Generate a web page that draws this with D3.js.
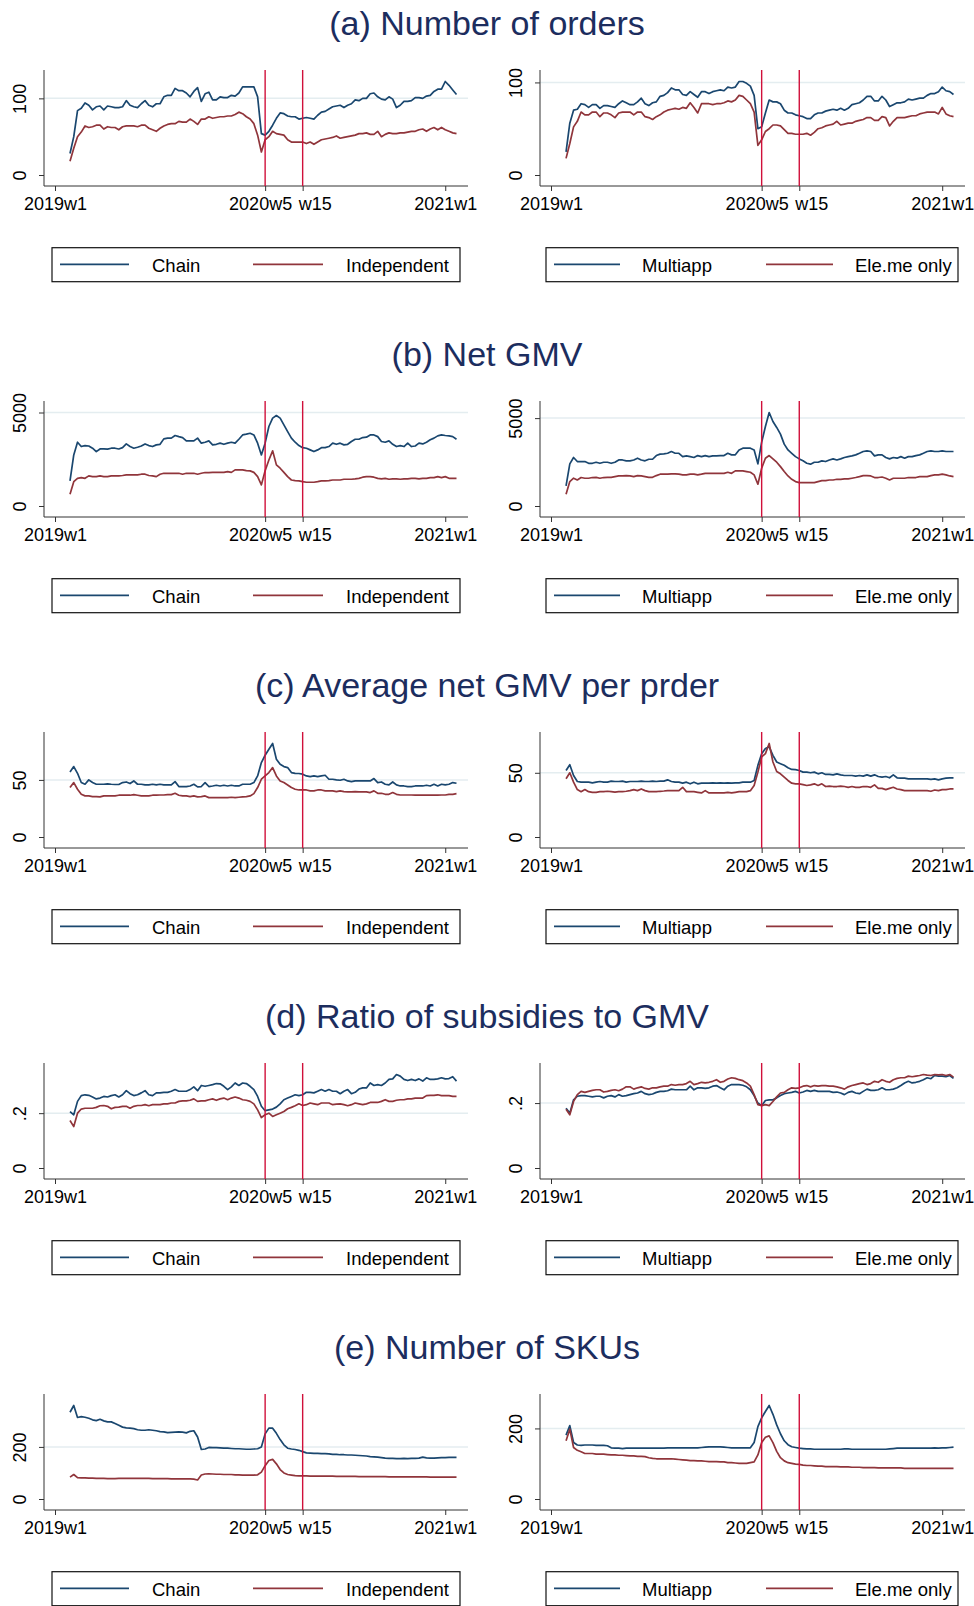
<!DOCTYPE html>
<html lang="en">
<head>
  <meta charset="UTF-8">
  <title>Weekly outcomes</title>
  <style>
    * { margin:0; padding:0; box-sizing:border-box }
    html, body { width:974px; height:1606px; background:#fff; overflow:hidden }
    svg { display:block; font-family:"Liberation Sans", Arial, sans-serif }
    .axis-line { stroke:#333; stroke-width:1 }
    .grid { stroke:#e4edf0; stroke-width:1.5 }
    .event { stroke:#d0103a; stroke-width:1.4 }
    .tick-lab { font-size:18px; fill:#000 }
    .legend-lab { font-size:18.5px; fill:#000 }
    .panel-title { font-size:34px; fill:#1c2d5e }
  </style>
</head>
<body>
<svg id="chart" width="974" height="1606"></svg>
<script src="https://cdn.jsdelivr.net/npm/d3@7/dist/d3.min.js"></script>
<script>
// week index: 0 = 2019w1 (Stata weekly dates, 52 weeks a year)
const weekIdx = d3.range(4, 108);
const xTickWeeks = [0, 56, 66, 104];
const xTickLabels = ["2019w1", "2020w5", "w15", "2021w1"];
const eventWeeks = [56, 66];

const titles = ["(a) Number of orders", "(b) Net GMV", "(c) Average net GMV per prder",
                "(d) Ratio of subsidies to GMV", "(e) Number of SKUs"];
const leftNames = ["Chain", "Independent"];
const rightNames = ["Multiapp", "Ele.me only"];
const yTicks = [[0, 100], [0, 5000], [0, 50], [0, 0.2], [0, 200]];
const yTickLabels = [["0", "100"], ["0", "5000"], ["0", "50"], ["0", ".2"], ["0", "200"]];

// (a) number of orders
const ordersChain = [28,50,84,87,94,91,85,89,90,85, 90,89,88,88,89,97,91,89,88,93, 97,91,89,93,93,102,104,104,113,110,
  110,107,102,109,114,96,106,108,98,98, 102,101,101,104,103,107,115,115,115,115, 102,54,52,57,65,74,81,80,77,76,
  76,73,74,75,74,73,78,82,83,86, 89,90,91,88,91,93,98,97,100,100, 106,107,102,99,98,102,99,88,91,96,
  96,97,101,101,100,103,104,109,112,112, 122,117,111,105];
const ordersInd = [18,35,50,56,64,62,63,65,65,60, 63,62,62,59,63,64,64,64,63,65, 65,61,59,57,61,64,66,67,67,70,
  69,69,73,70,66,73,73,76,74,75, 76,76,77,77,79,82,80,76,73,67, 52,30,46,50,57,54,53,52,46,43,
  43,43,43,41,43,40,43,46,47,48, 49,51,48,49,50,51,52,54,54,55, 53,53,57,50,53,55,54,54,55,55,
  56,57,57,59,60,57,60,62,59,62, 59,57,55,54];
const ordersMulti = [25,56,70,71,77,76,73,76,76,72, 75,75,74,73,77,80,78,76,76,79, 83,77,75,78,79,85,86,89,94,92,
  92,87,86,90,87,84,90,90,88,90, 91,92,91,95,94,95,101,101,99,96, 86,50,52,67,81,79,79,77,70,67,
  67,65,64,63,61,61,65,67,67,69, 70,71,70,72,70,72,76,77,78,81, 85,85,80,80,85,81,74,76,78,78,
  79,82,81,82,83,83,86,88,88,90, 95,91,90,87];
const ordersEleme = [18,34,52,58,68,65,65,68,68,63, 67,67,65,62,67,68,68,68,65,68, 68,63,62,60,63,65,68,70,71,72,
  71,73,72,78,73,67,77,77,77,76, 77,77,78,80,79,81,86,85,81,77, 68,32,38,47,50,54,54,53,49,45,
  45,44,44,44,45,43,46,50,51,53, 54,55,58,54,55,56,56,58,59,60, 62,62,59,59,63,62,53,58,62,62,
  62,63,64,64,66,67,68,68,68,66, 73,66,64,63];

// (b) net GMV
const gmvChain = [1340,2730,3410,3180,3230,3210,3090,2910,3050,3050, 3040,3090,3090,3050,3120,3320,3180,3090,3140,3210,
  3320,3230,3180,3270,3300,3590,3630,3630,3770,3710, 3660,3480,3480,3480,3630,3360,3410,3480,3270,3300,
  3360,3300,3360,3410,3360,3570,3800,3840,3890,3800, 3360,2730,3360,4250,4700,4840,4700,4340,3980,3630,
  3410,3230,3120,3090,3000,2910,3000,3120,3120,3180, 3360,3300,3360,3270,3300,3450,3570,3570,3660,3680,
  3800,3800,3710,3450,3410,3480,3300,3180,3230,3180, 3360,3180,3210,3360,3320,3410,3540,3630,3750,3800,
  3770,3750,3710,3570];
const gmvInd = [625,1300,1480,1520,1480,1610,1570,1570,1610,1570, 1570,1610,1610,1610,1630,1660,1660,1660,1660,1700,
  1700,1630,1610,1570,1700,1750,1750,1750,1750,1750, 1700,1750,1750,1750,1700,1750,1790,1790,1800,1800,
  1800,1800,1840,1800,1930,1930,1930,1890,1880,1800, 1570,1130,1880,2460,2950,2200,2020,1800,1570,1390,
  1360,1340,1300,1270,1270,1270,1300,1340,1340,1360, 1390,1390,1390,1430,1430,1430,1450,1480,1540,1570,
  1570,1540,1480,1450,1480,1430,1450,1450,1430,1450, 1450,1480,1480,1450,1480,1480,1520,1520,1570,1520,
  1570,1480,1480,1480];
const gmvMulti = [1140,2400,2760,2530,2530,2530,2430,2430,2490,2430, 2490,2490,2430,2490,2620,2620,2570,2570,2620,2720,
  2620,2570,2660,2660,2870,2950,2970,3000,3100,3000, 3000,2810,2850,2810,2760,2870,2810,2870,2810,2850,
  2850,2870,2870,3000,2910,2910,3190,3290,3290,3290, 3190,2400,3630,4520,5320,4810,4470,4090,3520,3190,
  3000,2810,2680,2570,2430,2380,2490,2490,2570,2530, 2620,2680,2620,2680,2760,2810,2850,2910,3000,3100,
  3140,3100,2850,2910,2910,2760,2680,2760,2720,2810, 2720,2810,2810,2870,2910,3000,3100,3140,3100,3100,
  3140,3100,3100,3100];
const gmvEleme = [665,1390,1580,1480,1620,1580,1580,1620,1630,1580, 1620,1630,1630,1670,1710,1710,1730,1710,1670,1730,
  1710,1670,1630,1630,1730,1810,1810,1810,1830,1830, 1810,1770,1770,1810,1810,1770,1810,1860,1860,1860,
  1860,1860,1860,1920,1860,2000,2000,2000,1960,1920, 1770,1240,2150,2720,2870,2680,2490,2240,1960,1710,
  1520,1390,1330,1330,1330,1330,1330,1390,1440,1440, 1480,1480,1520,1520,1540,1540,1580,1620,1670,1730,
  1730,1710,1620,1620,1650,1580,1480,1580,1580,1580, 1580,1620,1620,1620,1670,1670,1670,1730,1770,1770,
  1810,1770,1710,1670];

// (c) average net GMV per order
const avgChain = [57,61.7,55.8,47.7,46.2,50,47.7,46.2,46.2,46.2, 46.5,46.2,46,46,47.7,48.2,46.8,49.1,46.2,46.2,
  45.6,45.6,46.2,45.6,46.2,45.6,45.6,45.6,48.5,44.2, 44.2,44.2,44.7,46.2,43.9,44.2,47.7,44.2,44.7,45.3,
  44.7,45.3,44.7,45.3,44.7,44.7,46.2,46.2,46.2,47.7, 53.5,65.2,71.6,76.9,81.9,68.1,63.7,61.7,60.8,56.4,
  55.8,55.6,55,53.5,52.9,53.5,52.9,53.5,54.1,50.6, 50.6,50,49.7,50.6,49.1,48.5,49.1,49.1,49.1,49.1,
  49.1,51.2,47.7,48.2,46.2,45.6,48.2,45.6,44.7,44.7, 44.2,44.2,44.7,44.7,44.7,45.3,44.7,46.2,44.7,46.2,
  45.6,46.2,47.7,47.1];
const avgInd = [43.3,47.7,41.8,37.4,36,36,35.4,35.4,35.1,36, 36,36,36,36.6,36.6,36.6,36.6,37.1,36.6,36,
  36,36,36.6,36.6,36.8,36.8,37.1,37.1,38.3,36.6, 36,36,35.4,36,35.1,35.4,36,34.5,34.5,34.5,
  34.5,34.5,34.5,34.8,34.5,34.8,35.1,35.4,36,38, 43.3,50.6,53.5,56.4,60.8,53.5,49.1,47.7,45.6,43.3,
  41.8,41.2,41.2,41.2,40.4,40.4,41.2,41.2,40.4,40.4, 40.4,39.8,40.4,39.8,39.5,39.5,39.8,39.5,39.5,39.5,
  38.9,40.4,38.3,38.3,37.4,37.4,38.9,37.4,36.8,36.8, 36.8,36.8,36.6,36.6,36.6,36.6,36.6,36.8,36.6,36.8,
  36.8,37.4,37.4,38];
const avgMulti = [51.8,56.3,47.9,43.2,42.7,42.7,42.7,42.2,42.7,43.2, 42.7,42.7,43.5,43.2,43.2,43.5,42.7,43.2,43.2,43.2,
  43.5,43.2,43.2,43.5,43.2,43.5,43.5,44.5,43.2,42.7, 42.7,41.9,42.7,41.4,42.7,41.4,41.9,41.9,41.9,42.2,
  41.9,42.2,41.9,42.2,41.9,42.2,42.2,42.7,42.7,42.7, 44,55.8,64.9,68.9,70.2,63.6,58.4,57.1,55.8,53.9,
  52.6,52.4,51.8,50.5,50.5,50,50.5,49.2,50,48.7, 48.7,48.4,49.2,48.4,47.9,47.9,47.9,47.4,47.9,47.4,
  48.4,47.4,48.4,47.1,46.6,47.1,46.1,48.4,46.1,45.8, 45.8,45.3,45.3,45.3,45.3,45.3,45.3,44.8,45.3,44.5,
  45.3,45.8,46.1,46.1];
const avgEleme = [45.3,50,42.7,36.9,35.3,36.9,35.3,34.8,34.8,35.3, 35.3,35.6,35.3,35,35.3,35.3,35.6,36.1,36.9,36.1,
  37.4,36.1,35.3,35.3,35.3,35.6,35.8,36.1,36.1,36.1, 36.1,38.7,35.3,35.3,35.3,34.8,34.3,36.1,34.3,34.3,
  34.3,34.3,34.3,34.8,34.3,34.8,35.3,35.3,35.3,36.1, 40.1,50.5,62.3,64.9,72.8,58.4,51,49.2,46.6,44,
  41.9,41.4,41.4,40.8,40.1,40.6,41.4,40.1,41.4,39.3, 39.6,39.3,39.3,39.6,39.3,38.7,39.3,38.7,38.7,39.3,
  39.3,38.7,40.6,37.9,37.9,36.9,37.9,38.7,37.4,36.9, 36.1,36.1,36.1,36.1,36.1,36.1,36.1,35.6,36.6,36.1,
  36.9,36.9,37.4,37.4];

// (d) ratio of subsidies to GMV
const subChain = [.206,.194,.243,.264,.267,.265,.259,.252,.255,.261, .259,.264,.267,.259,.267,.282,.271,.264,.267,.274,
  .282,.267,.264,.274,.274,.276,.276,.280,.286,.280, .280,.280,.286,.296,.282,.301,.298,.301,.304,.308,
  .307,.298,.286,.296,.310,.301,.310,.308,.298,.286, .261,.225,.209,.212,.215,.222,.234,.249,.255,.261,
  .267,.264,.267,.276,.276,.274,.280,.286,.280,.286, .280,.280,.271,.280,.286,.271,.276,.288,.292,.292,
  .310,.301,.304,.301,.310,.323,.325,.341,.335,.323, .319,.323,.319,.325,.317,.329,.323,.323,.325,.329,
  .325,.326,.333,.317];
const subInd = [.173,.151,.200,.215,.218,.218,.218,.221,.227,.228, .225,.216,.221,.222,.225,.225,.218,.225,.228,.228,
  .231,.227,.231,.231,.231,.234,.234,.237,.237,.243, .245,.245,.247,.252,.243,.245,.245,.249,.252,.247,
  .252,.255,.249,.255,.259,.255,.249,.247,.243,.234, .212,.184,.194,.200,.188,.194,.200,.206,.216,.221,
  .227,.234,.228,.231,.237,.234,.231,.237,.237,.237, .231,.233,.234,.231,.227,.231,.237,.234,.231,.234,
  .239,.239,.239,.243,.249,.243,.243,.247,.249,.249, .252,.252,.255,.255,.255,.264,.265,.265,.267,.264,
  .264,.264,.261,.261];
const subMulti = [.184,.169,.210,.221,.223,.223,.221,.219,.221,.221, .216,.221,.223,.219,.226,.221,.223,.226,.229,.231,
  .236,.229,.226,.228,.233,.236,.236,.238,.243,.241, .241,.241,.241,.252,.241,.247,.247,.245,.247,.252,
  .254,.247,.241,.252,.257,.257,.257,.255,.250,.241, .223,.200,.192,.208,.210,.210,.216,.223,.229,.231,
  .233,.236,.231,.234,.239,.236,.239,.236,.236,.236, .236,.233,.234,.231,.226,.233,.236,.231,.229,.236,
  .243,.239,.239,.241,.247,.241,.241,.243,.247,.254, .262,.267,.262,.264,.267,.272,.278,.275,.285,.283,
  .283,.281,.285,.276];
const subEleme = [.181,.164,.205,.226,.236,.233,.236,.239,.241,.241, .234,.236,.239,.241,.238,.243,.250,.250,.243,.247,
  .250,.245,.243,.247,.247,.250,.252,.252,.257,.255, .257,.257,.260,.267,.257,.260,.264,.262,.264,.267,
  .272,.264,.267,.274,.278,.276,.272,.269,.262,.252, .226,.195,.192,.195,.192,.205,.219,.231,.233,.241,
  .247,.245,.247,.252,.254,.250,.254,.252,.254,.254, .252,.252,.250,.247,.243,.250,.254,.257,.260,.262,
  .257,.260,.267,.264,.272,.267,.264,.272,.276,.278, .278,.283,.281,.283,.285,.288,.286,.285,.288,.287,
  .288,.285,.288,.280];

// (e) number of SKUs
const skuChain = [333,359,313,316,314,310,304,301,306,300, 296,296,290,283,276,273,272,270,266,264,
  264,266,264,262,259,258,255,256,257,258, 257,254,260,262,238,190,192,198,197,197,
  196,195,195,194,193,193,192,191,191,192, 193,200,250,272,272,252,228,208,195,192,
  190,187,182,177,176,175,175,174,174,173, 171,171,170,170,169,169,168,167,166,165,
  163,162,161,159,157,156,156,155,155,156, 155,156,156,157,161,158,157,157,158,159,
  159,160,160,160];
const skuInd = [84,94,82,81,81,80,80,79,79,79, 78,78,78,79,79,79,79,79,79,79,
  79,79,78,78,78,78,78,77,77,77, 77,77,77,76,73,92,96,97,96,95,
  95,94,94,94,93,93,92,92,92,92, 93,103,128,148,152,135,113,100,94,92,
  90,89,89,89,88,88,88,88,88,88, 88,87,87,87,87,87,87,86,86,86,
  86,86,86,86,86,85,85,85,85,85, 85,85,85,85,85,85,84,84,84,84,
  84,84,84,84];
const skuMulti = [181,208,160,153,152,153,153,153,152,152, 152,151,145,144,144,143,144,144,144,144,
  144,144,144,144,144,144,144,145,145,145, 145,145,145,145,145,145,146,147,148,148,
  148,148,147,146,145,145,145,145,145,145, 160,205,230,248,265,240,210,185,165,154,
  148,146,144,143,142,142,141,141,141,141, 141,141,141,141,142,142,141,141,141,141,
  141,141,141,141,141,141,142,143,144,144, 144,144,144,144,144,144,144,144,145,144,
  145,145,146,147];
const skuEleme = [165,198,146,138,134,129,129,129,127,127, 127,126,125,125,124,124,123,122,122,121,
  121,120,117,115,114,114,114,114,114,113, 112,111,110,109,109,108,108,107,106,106,
  106,105,105,103,103,102,101,101,101,103, 105,125,160,175,179,160,135,117,108,103,
  101,99,98,96,95,95,94,93,93,92, 92,92,92,91,91,91,90,90,90,89,
  89,89,89,88,88,88,88,88,88,88, 87,87,87,87,87,87,87,87,87,87,
  87,87,87,87];

const leftSeries  = [[ordersChain, ordersInd], [gmvChain, gmvInd], [avgChain, avgInd], [subChain, subInd], [skuChain, skuInd]];
const rightSeries = [[ordersMulti, ordersEleme], [gmvMulti, gmvEleme], [avgMulti, avgEleme], [subMulti, subEleme], [skuMulti, skuEleme]];

const colors = ["#1a476f", "#90353b"];
const svg = d3.select("#chart");
const rowStep = 331, top0 = 70, plotH = 116;

// legend geometry per side (offsets from the panel's left edge)
const legendLeft  = { box:[8, 408], l1:[16, 85], t1:108, l2:[209, 279], t2:302 };
const legendRight = { box:[6, 412], l1:[14, 80], t1:102, l2:[226, 293], t2:315 };

function drawPanel(L, R, T, series, row, names, lg) {
  const g = svg.append("g");
  const vals = series[0].concat(series[1]);
  const ticks = yTicks[row];
  const x = d3.scaleLinear()
    .domain([Math.min(0, weekIdx[0]), Math.max(d3.max(xTickWeeks), weekIdx[weekIdx.length - 1])])
    .range([L + 11, R - 11.5]);
  const y = d3.scaleLinear()
    .domain([Math.min(ticks[0], d3.min(vals)), Math.max(ticks[1], d3.max(vals))])
    .range([T + 105, T + 11.5]);

  // grid at the top labelled tick
  g.append("line").attr("class", "grid")
    .attr("x1", L).attr("x2", R).attr("y1", y(ticks[1])).attr("y2", y(ticks[1]));

  // y axis
  const ya = g.append("g").attr("transform", `translate(${L},0)`)
    .call(d3.axisLeft(y).tickValues(ticks).tickSize(5).tickFormat((d, i) => yTickLabels[row][i]));
  ya.select(".domain").remove();
  ya.selectAll(".tick line").attr("stroke", "#333");
  ya.selectAll(".tick text").attr("class", "tick-lab")
    .attr("transform", "rotate(-90)").attr("x", 0).attr("y", -18.5).attr("dy", 0)
    .attr("text-anchor", "middle").attr("font-size", null).attr("font-family", null);

  // x axis
  const xa = g.append("g").attr("transform", `translate(0,${T + plotH})`)
    .call(d3.axisBottom(x).tickValues(xTickWeeks).tickSize(5).tickFormat((d, i) => xTickLabels[i]));
  xa.select(".domain").remove();
  xa.selectAll(".tick line").attr("stroke", "#333");
  xa.selectAll(".tick text").attr("class", "tick-lab")
    .attr("y", 24).attr("dy", 0).attr("font-size", null).attr("font-family", null)
    .attr("dx", (d, i) => [0, -5, 12, 0][i]);

  g.append("line").attr("class", "axis-line").attr("x1", L).attr("x2", L).attr("y1", T).attr("y2", T + plotH);
  g.append("line").attr("class", "axis-line").attr("x1", L).attr("x2", R).attr("y1", T + plotH).attr("y2", T + plotH);

  // series
  const line = d3.line().x((d, i) => x(weekIdx[i])).y(d => y(d));
  series.forEach((s, k) => {
    g.append("path").datum(s).attr("d", line)
      .attr("fill", "none").attr("stroke", colors[k]).attr("stroke-width", 1.7)
      .attr("stroke-linejoin", "round");
  });

  // event lines
  g.selectAll(".event").data(eventWeeks).join("line").attr("class", "event")
    .attr("x1", d => x(d)).attr("x2", d => x(d)).attr("y1", T).attr("y2", T + plotH);

  // legend
  const ly = T + 194.3;
  g.append("rect").attr("x", L + lg.box[0]).attr("y", T + 177.7).attr("width", lg.box[1]).attr("height", 34)
    .attr("fill", "#fff").attr("stroke", "#111").attr("stroke-width", 1.2);
  [[lg.l1, lg.t1], [lg.l2, lg.t2]].forEach(([ln, tx], k) => {
    g.append("line").attr("x1", L + ln[0]).attr("x2", L + ln[1]).attr("y1", ly).attr("y2", ly)
      .attr("stroke", colors[k]).attr("stroke-width", 1.7);
    g.append("text").attr("class", "legend-lab").attr("x", L + tx).attr("y", T + 201.5).text(names[k]);
  });
}

titles.forEach((t, row) => {
  const T = top0 + row * rowStep;
  svg.append("text").attr("class", "panel-title").attr("x", 487).attr("y", T - 35)
    .attr("text-anchor", "middle").text(t);
  drawPanel(44, 468, T, leftSeries[row], row, leftNames, legendLeft);
  drawPanel(540, 965, T, rightSeries[row], row, rightNames, legendRight);
});
</script>
</body>
</html>
